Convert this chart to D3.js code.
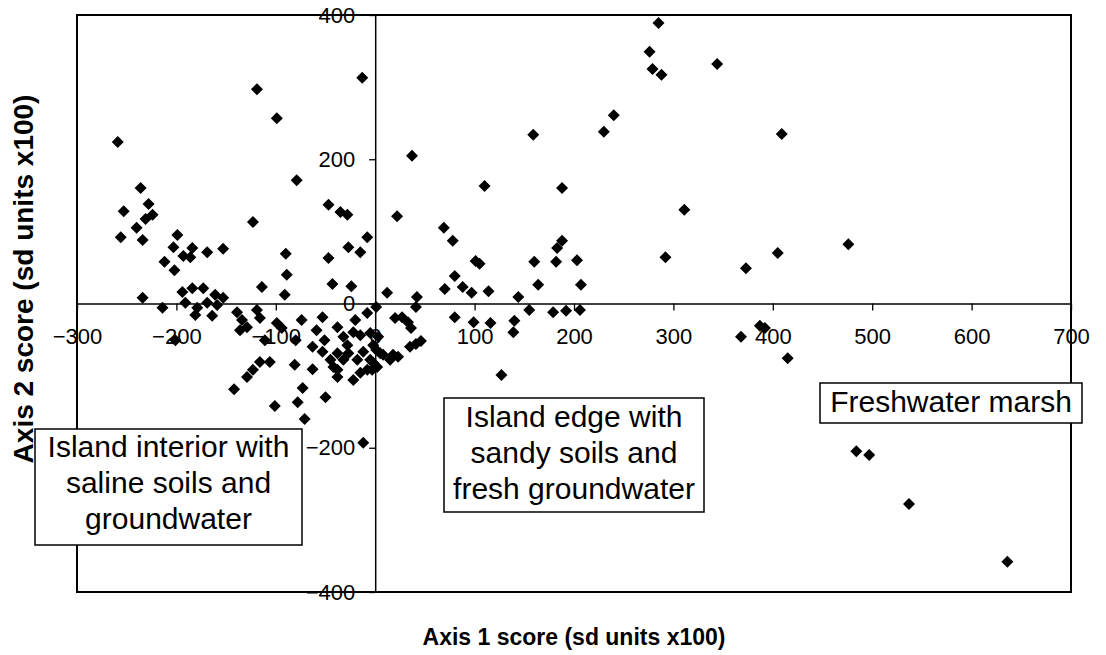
<!DOCTYPE html>
<html>
<head>
<meta charset="utf-8">
<script src="https://cdn.jsdelivr.net/npm/d3@7"></script>
<style>
  body { margin: 0; background: #fff; }
  svg { display: block; }
  text { font-family: "Liberation Sans", Arial, sans-serif; fill: #000; }
</style>
</head>
<body>
<svg id="chart" width="1106" height="655"></svg>
<script>
// ordination scores (sd units x100)
const axis1Scores = [
  -259, -119, -99, -13, -79, -236, -228, -253, -224, -231, -240, -256, -234, -199, -203, -184,
  -193, -186, -169, -153, -212, -202, -123, -47, -35, -28, 22, -8, -27, -15, -90, -89,
  -91, -47, -114, -43, -24, 12, -234, -214, -201, -194, -184, -173, -161, -153, -191, -179,
  -169, -181, -164, -159, -139, -134, -129, -136, -119, -116, -111, -99, -94, -74, -81, -63,
  -42, -116, -106, -123, -129, -142, -73, -101, -78, -50, -71, -53, -59, -51, -63, -38,
  -32, -22, -38, -27, -18, -38, -22, -8, 1, -5, 5, 18, -20, -80, -53, -28,
  -15, -32, -12, -2, 8, -8, -2, 23, -5, 2, -45, -38, -15, 3, 42, 41,
  20, 27, 33, 36, 46, 35, 41, 1, 15, -3, 69, 78, 101, 105, 160, 188,
  183, 182, 203, 292, 80, 70, 88, 97, 114, 164, 207, 144, 155, 179, 192, 206,
  80, 99, 116, 140, 139, 127, 311, 110, 188, 37, 159, 230, 240, 276, 279, 288,
  285, 344, 409, 476, 405, 373, 368, 387, 392, 415, 484, 497, 537, 636, -12
];
const axis2Scores = [
  224, 297, 257, 313, 171, 160, 138, 128, 123, 117, 105, 92, 88, 95, 78, 77,
  66, 64, 71, 76, 58, 46, 113, 137, 127, 123, 121, 92, 78, 71, 69, 40,
  12, 63, 23, 27, 24, 15, 8, -6, -51, 16, 21, 21, 12, 8, 1, -6,
  1, -16, -17, -2, -12, -23, -33, -37, -9, -20, -51, -27, -34, -23, -85, -91,
  -88, -81, -81, -92, -102, -119, -117, -142, -137, -130, -160, -19, -37, -51, -60, -33,
  -46, -40, -69, -69, -78, -102, -106, -13, -5, -41, -69, -71, -23, -51, -67, -58,
  -44, -78, -67, -82, -71, -92, -58, -74, -78, -88, -78, -92, -96, -46, 9, -5,
  -20, -19, -26, -34, -52, -60, -56, -64, -78, -92, 105, 87, 59, 55, 58, 87,
  77, 58, 60, 64, 38, 20, 23, 15, 17, 26, 26, 9, -9, -12, -10, -9,
  -19, -26, -27, -24, -40, -99, 130, 163, 160, 205, 234, 238, 261, 349, 325, 317,
  389, 332, 235, 82, 70, 49, -46, -31, -34, -76, -205, -210, -278, -358, -193
];

const xTicks = [-300, -200, -100, 0, 100, 200, 300, 400, 500, 600, 700];
const yTicks = [-400, -200, 0, 200, 400];

const xTitle = 'Axis 1 score (sd units x100)';
const yTitle = 'Axis 2 score (sd units x100)';

const groupLabels = [
  ['Island interior with', 'saline soils and', 'groundwater'],
  ['Island edge with', 'sandy soils and', 'fresh groundwater'],
  ['Freshwater marsh']
];

// where each annotation box sits (pixels)
const boxLayout = [
  { left: 35, top: 429, width: 267, height: 116, firstBase: 457 },
  { left: 444, top: 398, width: 260, height: 114, firstBase: 427 },
  { left: 820, top: 383, width: 262, height: 40, firstBase: 412 }
];

const svg = d3.select('#chart');

const x = d3.scaleLinear().domain([-300, 700]).range([77, 1071]);
const y = d3.scaleLinear().domain([-400, 400]).range([592, 15]);

// plot frame
svg.append('rect')
  .attr('x', x.range()[0])
  .attr('y', y.range()[1])
  .attr('width', x.range()[1] - x.range()[0])
  .attr('height', y.range()[0] - y.range()[1])
  .attr('fill', 'none')
  .attr('stroke', '#000')
  .attr('stroke-width', 2);

// axes cross at the origin
let gx = svg.append('g')
  .attr('transform', `translate(0,${y(0)})`)
  .call(d3.axisBottom(x).tickValues(xTicks).tickSize(7).tickSizeOuter(0).tickPadding(18)
    .tickFormat(d3.format('d')));

let gy = svg.append('g')
  .attr('transform', `translate(${x(0)},0)`)
  .call(d3.axisLeft(y).tickValues(yTicks).tickSize(6).tickSizeOuter(0).tickPadding(14)
    .tickFormat(d3.format('d')));

[gx, gy].forEach((g) => {
  g.attr('font-family', null).attr('font-size', null);
  g.select('.domain').attr('stroke', '#000').attr('stroke-width', 1.5);
  g.selectAll('.tick line').attr('stroke', '#000').attr('stroke-width', 1.3);
  g.selectAll('.tick text').style('font-size', '22px').attr('fill', '#000');
});

// sample points
svg.append('g')
  .selectAll('path')
  .data(d3.range(axis1Scores.length))
  .enter()
  .append('path')
  .attr('d', 'M0,-6L6,0L0,6L-6,0Z')
  .attr('transform', (i) => `translate(${x(axis1Scores[i])},${y(axis2Scores[i])})`)
  .attr('fill', '#000');

// group annotation boxes
groupLabels.forEach((lines, k) => {
  let b = boxLayout[k];
  let g = svg.append('g');
  g.append('rect')
    .attr('x', b.left)
    .attr('y', b.top)
    .attr('width', b.width)
    .attr('height', b.height)
    .attr('fill', '#fff')
    .attr('stroke', '#000')
    .attr('stroke-width', 1.5);
  g.selectAll('text')
    .data(lines)
    .enter()
    .append('text')
    .attr('x', b.left + b.width / 2)
    .attr('y', (d, i) => b.firstBase + i * 36)
    .attr('text-anchor', 'middle')
    .style('font-size', '30px')
    .text((d) => d);
});

// axis titles
svg.append('text')
  .attr('x', (x.range()[0] + x.range()[1]) / 2)
  .attr('y', 645)
  .attr('text-anchor', 'middle')
  .style('font-size', '23px')
  .style('font-weight', 'bold')
  .text(xTitle);

svg.append('text')
  .attr('transform', 'translate(33,279) rotate(-90)')
  .attr('text-anchor', 'middle')
  .style('font-size', '28px')
  .style('font-weight', 'bold')
  .text(yTitle);
</script>
</body>
</html>
